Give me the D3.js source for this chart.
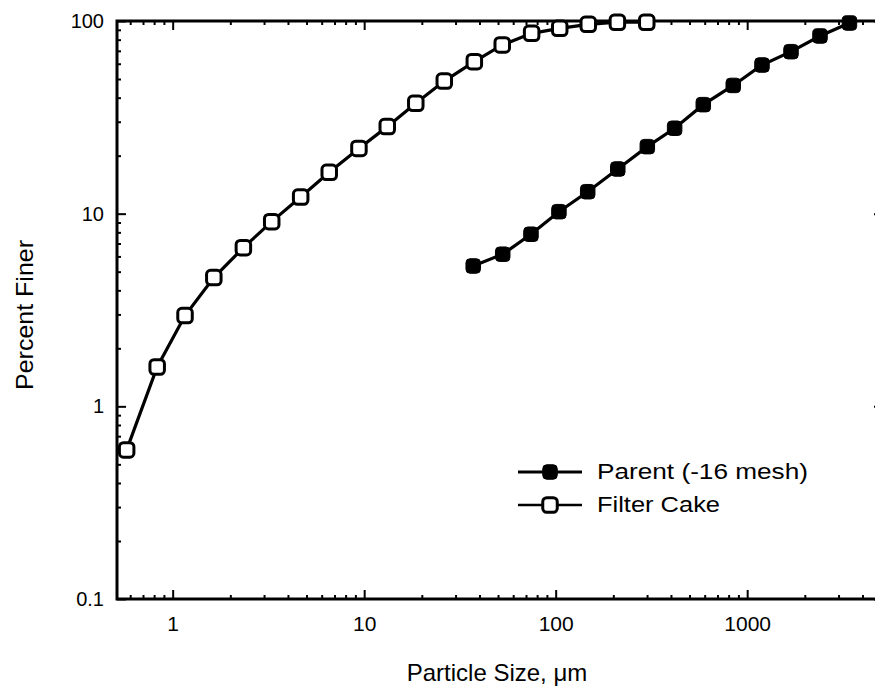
<!DOCTYPE html>
<html><head><meta charset="utf-8">
<script src="https://cdn.jsdelivr.net/npm/d3@7"></script>
<style>
body{margin:0;background:#fff}
svg text{font-family:"Liberation Sans",Arial,Helvetica,sans-serif;fill:#000}
</style>
</head><body>
<svg id="chart" width="875" height="694"></svg>
<script>
// ---- data ----
const filterCakeSize  = [0.575, 0.83, 1.16, 1.64, 2.34, 3.29, 4.66, 6.57, 9.39, 13.2, 18.6, 26.2, 37.6, 52.6, 74.9, 105, 148, 210, 299];
const filterCakeFiner = [0.594, 1.6, 2.96, 4.66, 6.66, 9.09, 12.2, 16.4, 21.8, 28.3, 37.4, 48.8, 61.5, 75.1, 86.3, 91.6, 96.1, 98.5, 98.5];
const parentSize  = [37.1, 52.9, 74.3, 104, 147, 211, 301, 418, 590, 846, 1195, 1694, 2400, 3420];
const parentFiner = [5.35, 6.16, 7.82, 10.24, 13.0, 17.06, 22.28, 27.76, 36.8, 46.3, 59.1, 69.3, 83.6, 97.6];
const xTickValues = [1, 10, 100, 1000];
const xTickLabels = ["1", "10", "100", "1000"];
const yTickValues = [0.1, 1, 10, 100];
const yTickLabels = ["0.1", "1", "10", "100"];
const seriesNames = ["Parent (-16 mesh)", "Filter Cake"];
const xTitle = "Particle Size, \u03bcm";
const yTitle = "Percent Finer";

// ---- layout ----
const L = 117, R = 883, T = 21, B = 599;
const svg = d3.select("#chart");

const x = d3.scaleLog().domain([0.512, 5120]).range([L, R]);
const y = d3.scaleLog().domain([0.1, 100]).range([B, T]);

function minors(domain) {
  const out = [];
  const lo = Math.floor(Math.log10(domain[0])), hi = Math.ceil(Math.log10(domain[1]));
  for (let e = lo; e <= hi; e++) for (let k = 2; k <= 9; k++) {
    const v = k * Math.pow(10, e);
    if (v > domain[0] && v < domain[1]) out.push(v);
  }
  return out;
}
const xMinor = minors(x.domain()), yMinor = minors(y.domain());

function styleAxis(g, fs) {
  g.select(".domain").remove();
  g.selectAll(".tick line").attr("stroke", "#000").attr("stroke-width", 2);
  g.selectAll(".tick text").attr("font-size", fs).attr("font-family", null);
}

const fmtX = d => xTickLabels[xTickValues.indexOf(d)];
const fmtY = d => yTickLabels[yTickValues.indexOf(d)];

// bottom
svg.append("g").attr("transform", `translate(0,${B})`)
  .call(d3.axisBottom(x).tickValues(xTickValues).tickSize(-9).tickSizeOuter(0).tickPadding(17).tickFormat(fmtX))
  .call(g => styleAxis(g, 21));
svg.append("g").attr("transform", `translate(0,${B})`)
  .call(d3.axisBottom(x).tickValues(xMinor).tickSize(-4).tickSizeOuter(0).tickFormat(""))
  .call(g => styleAxis(g, 21));
// top
svg.append("g").attr("transform", `translate(0,${T})`)
  .call(d3.axisTop(x).tickValues(xTickValues).tickSize(-9).tickSizeOuter(0).tickFormat(""))
  .call(g => styleAxis(g, 21));
svg.append("g").attr("transform", `translate(0,${T})`)
  .call(d3.axisTop(x).tickValues(xMinor).tickSize(-4).tickSizeOuter(0).tickFormat(""))
  .call(g => styleAxis(g, 21));
// left
svg.append("g").attr("transform", `translate(${L},0)`)
  .call(d3.axisLeft(y).tickValues(yTickValues).tickSize(-9).tickSizeOuter(0).tickPadding(13).tickFormat(fmtY))
  .call(g => styleAxis(g, 20));
svg.append("g").attr("transform", `translate(${L},0)`)
  .call(d3.axisLeft(y).tickValues(yMinor).tickSize(-4).tickSizeOuter(0).tickFormat(""))
  .call(g => styleAxis(g, 20));
// right
svg.append("g").attr("transform", `translate(${R},0)`)
  .call(d3.axisRight(y).tickValues(yTickValues).tickSize(-9).tickSizeOuter(0).tickFormat(""))
  .call(g => styleAxis(g, 20));
svg.append("g").attr("transform", `translate(${R},0)`)
  .call(d3.axisRight(y).tickValues(yMinor).tickSize(-4).tickSizeOuter(0).tickFormat(""))
  .call(g => styleAxis(g, 20));

// frame
svg.append("rect").attr("x", L).attr("y", T).attr("width", R - L).attr("height", B - T)
  .attr("fill", "none").attr("stroke", "#000").attr("stroke-width", 3);

// titles
svg.append("text").attr("x", 497).attr("y", 681).attr("text-anchor", "middle")
  .attr("font-size", 24).text(xTitle);
svg.append("text").attr("transform", "translate(33,315) rotate(-90)").attr("text-anchor", "middle")
  .attr("font-size", 24).attr("textLength", 150).attr("lengthAdjust", "spacingAndGlyphs").text(yTitle);

// series
const line = d3.line().x(d => x(d[0])).y(d => y(d[1]));
const fcData = filterCakeSize.map((s, i) => [s, filterCakeFiner[i]]);
const pData = parentSize.map((s, i) => [s, parentFiner[i]]);
const MS = 14.5;

function drawSeries(data, filled) {
  svg.append("path").datum(data).attr("d", line)
    .attr("fill", "none").attr("stroke", "#000").attr("stroke-width", 3.2);
  svg.append("g").selectAll("rect").data(data).join("rect")
    .attr("x", d => x(d[0]) - MS / 2).attr("y", d => y(d[1]) - MS / 2)
    .attr("width", MS).attr("height", MS).attr("rx", 4)
    .attr("fill", filled ? "#000" : "#fff").attr("stroke", "#000").attr("stroke-width", filled ? 1 : 3);
}
drawSeries(fcData, false);
drawSeries(pData, true);

// legend
const legend = [
  {name: seriesNames[0], filled: true, y: 472, w: 3.2, len: 211},
  {name: seriesNames[1], filled: false, y: 505, w: 2.5, len: 123}
];
const lg = svg.append("g");
legend.forEach(it => {
  lg.append("line").attr("x1", 518).attr("x2", 582).attr("y1", it.y).attr("y2", it.y)
    .attr("stroke", "#000").attr("stroke-width", it.w);
  lg.append("rect").attr("x", 550 - MS / 2).attr("y", it.y - MS / 2).attr("width", MS).attr("height", MS)
    .attr("rx", 4).attr("fill", it.filled ? "#000" : "#fff").attr("stroke", "#000")
    .attr("stroke-width", it.filled ? 1 : 3);
  lg.append("text").attr("x", 597).attr("y", it.y + 7).attr("font-size", 22)
    .attr("textLength", it.len).attr("lengthAdjust", "spacingAndGlyphs").text(it.name);
});
</script>
</body></html>
